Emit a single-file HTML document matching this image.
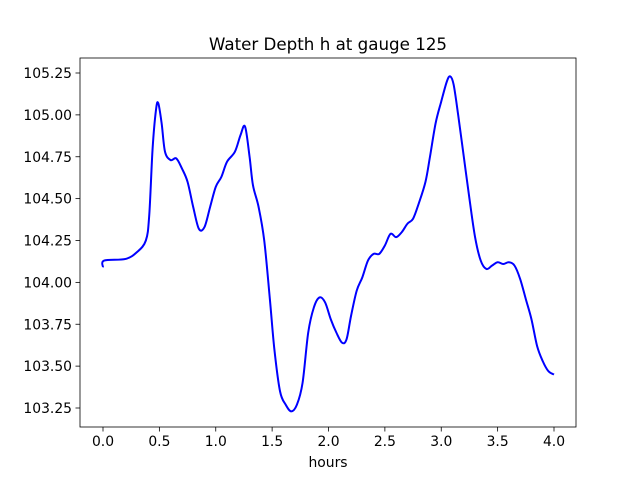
<!DOCTYPE html>
<html><head><meta charset="utf-8"><style>
body{margin:0;background:#fff;}
svg{display:block;font-family:"DejaVu Sans","Liberation Sans",sans-serif;}
</style></head><body>
<svg id="chart" width="640" height="480" viewBox="0 0 640 480">
<rect width="640" height="480" fill="#fff"/>
<text x="328" y="50" font-size="16.7" text-anchor="middle" fill="#000">Water Depth h at gauge 125</text>
<g id="plot"></g>
<rect x="80" y="58" width="496" height="369" fill="none" stroke="#000" stroke-width="0.8"/>
<text x="328" y="467" font-size="13.9" text-anchor="middle">hours</text>
</svg>
<script>
const hours=[0.0,0.01,0.2,0.3,0.38,0.41,0.44,0.47,0.49,0.52,0.55,0.6,0.65,0.7,0.75,0.8,0.85,0.9,0.95,1.0,1.05,1.1,1.17,1.22,1.26,1.3,1.33,1.38,1.43,1.48,1.52,1.57,1.62,1.67,1.72,1.77,1.82,1.87,1.92,1.97,2.02,2.07,2.12,2.16,2.2,2.25,2.3,2.35,2.4,2.45,2.5,2.55,2.6,2.65,2.7,2.75,2.8,2.86,2.9,2.95,3.0,3.05,3.08,3.11,3.15,3.2,3.25,3.3,3.35,3.4,3.45,3.5,3.55,3.6,3.65,3.7,3.75,3.8,3.85,3.9,3.95,4.0];
const depth=[104.09,104.13,104.14,104.18,104.25,104.4,104.8,105.03,105.07,104.95,104.78,104.73,104.74,104.68,104.6,104.45,104.32,104.33,104.45,104.57,104.63,104.72,104.78,104.88,104.93,104.75,104.58,104.45,104.25,103.9,103.6,103.35,103.27,103.23,103.27,103.4,103.7,103.85,103.91,103.88,103.78,103.7,103.64,103.66,103.8,103.95,104.03,104.13,104.17,104.17,104.22,104.29,104.27,104.3,104.35,104.38,104.47,104.6,104.75,104.95,105.08,105.2,105.23,105.18,105.0,104.75,104.5,104.27,104.13,104.08,104.1,104.12,104.11,104.12,104.1,104.02,103.9,103.78,103.62,103.53,103.47,103.45];
const xTicks=[0.0,0.5,1.0,1.5,2.0,2.5,3.0,3.5,4.0];
const yTicks=[103.25,103.5,103.75,104.0,104.25,104.5,104.75,105.0,105.25];
const X=h=>103+(h-0)*112.75;
const Y=v=>408-(v-103.25)*167.5;
const ns="http://www.w3.org/2000/svg";
const g=document.getElementById('plot');
function mk(t,a){const e=document.createElementNS(ns,t);for(const k in a)e.setAttribute(k,a[k]);return e;}
xTicks.forEach(t=>{
  const l=mk('line',{x1:X(t),x2:X(t),y1:427,y2:431.5,stroke:'#000','stroke-width':0.8});
  
  
  g.appendChild(l);
  const tx=mk('text',{x:X(t),y:446,'font-size':13.9,'text-anchor':'middle'});
  
  
  tx.textContent=t.toFixed(1);g.appendChild(tx);
});
yTicks.forEach(t=>{
  const l=mk('line',{x1:75.5,x2:80,y1:Y(t),y2:Y(t),stroke:'#000','stroke-width':0.8});
  
  
  g.appendChild(l);
  const tx=mk('text',{x:72,y:Y(t)+5,'font-size':13.9,'text-anchor':'end'});
  
  
  tx.textContent=t.toFixed(2);g.appendChild(tx);
});
const pts=hours.map((h,i)=>[X(h),Y(depth[i])]);
let d='M'+pts[0][0]+','+pts[0][1];
for(let i=0;i<pts.length-1;i++){
  const p0=pts[Math.max(i-1,0)],p1=pts[i],p2=pts[i+1],p3=pts[Math.min(i+2,pts.length-1)];
  const c1=[p1[0]+(p2[0]-p0[0])/6,p1[1]+(p2[1]-p0[1])/6],c2=[p2[0]-(p3[0]-p1[0])/6,p2[1]-(p3[1]-p1[1])/6];
  d+=`C${c1[0]},${c1[1]} ${c2[0]},${c2[1]} ${p2[0]},${p2[1]}`;
}
const path=mk('path',{d:d,fill:'none',stroke:'#0000ff','stroke-width':2});


g.appendChild(path);
</script>
</body></html>
